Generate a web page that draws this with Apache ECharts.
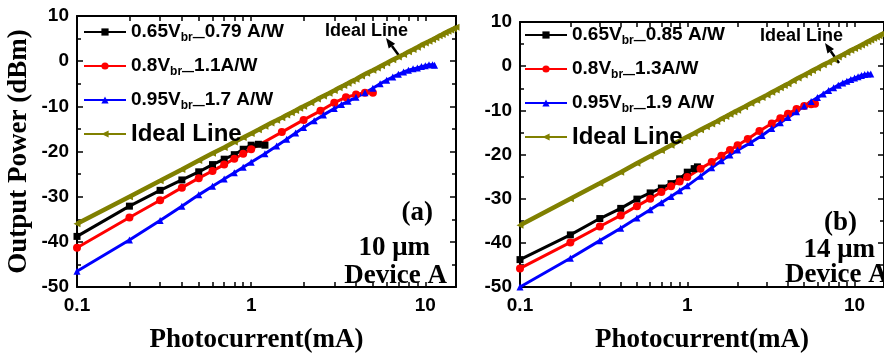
<!DOCTYPE html>
<html>
<head>
  <meta charset="utf-8">
  <title>Output power vs photocurrent</title>
  <script src="https://cdn.jsdelivr.net/npm/echarts@6/dist/echarts.min.js"></script>
  <style>
    html, body { margin: 0; padding: 0; background: #fff; }
    #chart { width: 884px; height: 359px; }
  </style>
</head>
<body>
  <div id="chart"></div>
  <script>
    // ideal line (same for both devices)
    const idealI = [0.1, 0.2, 0.3, 0.4, 0.5, 0.6, 0.7, 0.8, 0.9, 1.0, 1.1, 1.2, 1.3, 1.4, 1.5, 1.6, 1.7, 1.8, 1.9, 2.0,
      2.2, 2.4, 2.6, 2.8, 3.0, 3.2, 3.4, 3.6, 3.8, 4.0, 4.3, 4.6, 5.0, 5.3, 5.6, 6.0, 6.5, 7.0, 7.5, 8.0,
      8.5, 9.0, 9.5, 10, 10.5, 11, 11.5, 12, 12.5, 13, 13.5, 14, 14.5, 15];
    const idealP = [-36, -30.0, -26.5, -24.0, -22.0, -20.4, -19.1, -17.9, -16.9, -16.0, -15.2, -14.4, -13.7, -13.1, -12.5, -11.9, -11.4, -10.9, -10.4, -10.0,
      -9.2, -8.4, -7.7, -7.1, -6.5, -5.9, -5.4, -4.9, -4.4, -4.0, -3.3, -2.7, -2.0, -1.5, -1.0, -0.4, 0.3, 0.9, 1.5, 2.1,
      2.6, 3.1, 3.6, 4.0, 4.4, 4.8, 5.2, 5.6, 5.9, 6.3, 6.6, 6.9, 7.2, 7.5];

    // (a) 10 um device
    const aBlackI = [0.1, 0.2, 0.3, 0.4, 0.5, 0.6, 0.7, 0.8, 0.9, 1.0, 1.1, 1.2];
    const aBlackP = [-38.8, -32.1, -28.6, -26.3, -24.5, -22.9, -21.7, -20.7, -19.5, -18.6, -18.4, -18.6];
    const aRedI = [0.1, 0.2, 0.3, 0.4, 0.5, 0.6, 0.7, 0.8, 0.9, 1.0, 1.5, 2.0, 2.5, 3.0, 3.5, 4.0, 4.5, 5.0];
    const aRedP = [-41.3, -34.6, -30.8, -28.0, -25.9, -24.3, -22.9, -21.6, -20.5, -19.5, -15.7, -13.0, -11.0, -9.2, -8.0, -7.4, -7.0, -7.0];
    const aBlueI = [0.1, 0.2, 0.3, 0.4, 0.5, 0.6, 0.7, 0.8, 0.9, 1.0, 1.2, 1.4, 1.6, 1.8, 2.0, 2.3, 2.6, 3.0, 3.3, 3.6,
      4.0, 4.5, 5.0, 5.5, 6.0, 6.5, 7.0, 7.5, 8.0, 8.5, 9.0, 9.5, 10, 10.5, 11, 11.3];
    const aBlueP = [-46.5, -39.6, -35.3, -32.1, -29.6, -27.7, -26.1, -24.7, -23.5, -22.4, -20.5, -18.8, -17.3, -15.9, -14.7, -13.2, -11.9, -10.5, -9.6, -8.9,
      -8.0, -7.0, -6.0, -5.0, -4.2, -3.5, -2.9, -2.4, -2.0, -1.7, -1.5, -1.2, -1.0, -0.8, -0.8, -0.9];

    // (b) 14 um device
    const bBlackI = [0.1, 0.2, 0.3, 0.4, 0.5, 0.6, 0.7, 0.8, 0.9, 1.0, 1.1, 1.15];
    const bBlackP = [-43.8, -38.2, -34.5, -32.2, -30.1, -28.7, -27.6, -26.6, -25.5, -24.0, -23.2, -22.8];
    const bRedI = [0.1, 0.2, 0.3, 0.4, 0.5, 0.6, 0.7, 0.8, 0.9, 1.0, 1.2, 1.4, 1.6, 1.8, 2.0, 2.3, 2.7, 3.2, 3.6, 4.0, 4.5, 5.0, 5.5, 5.8];
    const bRedP = [-45.8, -39.9, -36.3, -33.8, -31.7, -30.0, -28.5, -27.2, -26.1, -25.1, -23.2, -21.7, -20.3, -19.0, -17.9, -16.5, -14.7, -13.0, -11.8, -10.8, -9.7, -9.0, -8.6, -8.5];
    const bBlueI = [0.1, 0.2, 0.3, 0.4, 0.5, 0.6, 0.7, 0.8, 0.9, 1.0, 1.2, 1.4, 1.6, 1.8, 2.0, 2.4, 2.8, 3.2, 3.6, 4.0,
      4.5, 5.0, 5.5, 6.0, 6.5, 7.0, 7.5, 8.0, 8.5, 9.0, 9.5, 10, 10.5, 11, 11.5, 12, 12.5];
    const bBlueP = [-50.0, -43.5, -39.5, -36.7, -34.4, -32.5, -30.9, -29.5, -28.2, -27.1, -24.9, -23.0, -21.4, -20.1, -19.0, -17.3, -15.7, -14.1, -12.8, -11.6,
      -10.3, -9.0, -8.0, -7.1, -6.3, -5.5, -4.9, -4.3, -3.8, -3.4, -3.0, -2.7, -2.4, -2.1, -1.9, -1.8, -1.8];

    const xLabels = [0.1, 1, 10];
    const xTicks = [0.1, 0.2, 0.3, 0.4, 0.5, 0.6, 0.7, 0.8, 0.9, 1, 2, 3, 4, 5, 6, 7, 8, 9, 10, 20];
    const namesA = ['0.65Vbr_0.79 A/W', '0.8Vbr_1.1A/W', '0.95Vbr_1.7 A/W', 'Ideal Line'];
    const namesB = ['0.65Vbr_0.85 A/W', '0.8Vbr_1.3A/W', '0.95Vbr_1.9 A/W', 'Ideal Line'];

    const pairs = (xs, ys) => xs.map((x, i) => [x, ys[i]]);
    const SANS = 'Liberation Sans, Arial, sans-serif';
    const SERIF = 'Liberation Serif, Times New Roman, serif';

    function xAxes(grid) {
      return [
        {
          gridIndex: grid, type: 'log', logBase: 10, min: 0.1, max: 15, position: 'bottom',
          name: 'Photocurrent(mA)', nameLocation: 'middle', nameGap: 40,
          nameTextStyle: { fontFamily: SERIF, fontWeight: 'bold', fontSize: 27, color: '#000', padding: grid === 0 ? [0, 20, 0, 0] : 0 },
          axisLine: { onZero: false, lineStyle: { color: '#000', width: 2 } },
          axisTick: { inside: true, length: 5, lineStyle: { color: '#000', width: 1.5 }, customValues: xTicks },
          axisLabel: { customValues: xLabels, margin: 9, fontFamily: SANS, fontWeight: 'bold', fontSize: 19, color: '#000',
            formatter: v => String(v) },
          splitLine: { show: false }
        },
        {
          gridIndex: grid, type: 'log', logBase: 10, min: 0.1, max: 15, position: 'top',
          axisLine: { onZero: false, lineStyle: { color: '#000', width: 2 } },
          axisTick: { inside: true, length: 5, lineStyle: { color: '#000', width: 1.5 }, customValues: xTicks },
          axisLabel: { show: false },
          splitLine: { show: false }
        }
      ];
    }

    function yAxes(grid, withName) {
      return [
        {
          gridIndex: grid, type: 'value', min: -50, max: 10, interval: 10, position: 'left',
          name: withName ? 'Output Power (dBm)' : '', nameLocation: 'middle', nameGap: 44,
          nameTextStyle: { fontFamily: SERIF, fontWeight: 'bold', fontSize: 27, color: '#000' },
          axisLine: { onZero: false, lineStyle: { color: '#000', width: 2 } },
          axisTick: { inside: true, length: 6, lineStyle: { color: '#000', width: 1.5 } },
          minorTick: { show: true, splitNumber: 2, length: 4, lineStyle: { color: '#000', width: 1.5 } },
          axisLabel: { margin: 8, fontFamily: SANS, fontWeight: 'bold', fontSize: 19, color: '#000' },
          splitLine: { show: false }
        },
        {
          gridIndex: grid, type: 'value', min: -50, max: 10, interval: 10, position: 'right',
          axisLine: { onZero: false, lineStyle: { color: '#000', width: 2 } },
          axisTick: { inside: true, length: 6, lineStyle: { color: '#000', width: 1.5 } },
          minorTick: { show: true, splitNumber: 2, length: 4, lineStyle: { color: '#000', width: 1.5 } },
          axisLabel: { show: false },
          splitLine: { show: false }
        }
      ];
    }

    const styles = [
      { color: '#000000', symbol: 'rect', size: 7, width: 3 },
      { color: '#ff0000', symbol: 'circle', size: 8, width: 3 },
      { color: '#0000ff', symbol: 'triangle', size: 7, width: 3 },
      { color: '#808000', symbol: 'triangle', size: 7, width: 4.5, rotate: 90 }
    ];

    function seriesFor(grid, names, sets) {
      return sets.map((d, k) => ({
        name: names[k], type: 'line', xAxisIndex: grid * 2, yAxisIndex: grid * 2,
        data: pairs(d[0], d[1]),
        symbol: styles[k].symbol, symbolSize: styles[k].size, symbolRotate: styles[k].rotate || 0,
        showAllSymbol: true,
        itemStyle: { color: styles[k].color },
        lineStyle: { color: styles[k].color, width: styles[k].width },
        z: k === 3 ? 1 : 3,
        animation: false
      }));
    }

    function legendFor(grid, names, left, top) {
      return {
        data: names, orient: 'vertical', left: left, top: top,
        itemWidth: 42, itemHeight: 9, itemGap: 10, padding: 0,
        selectedMode: false,
        formatter: n => n === 'Ideal Line'
          ? '{big|Ideal Line}'
          : '{n|' + n.split('Vbr_')[0] + 'V}{s|br—}{n|' + n.split('Vbr_')[1] + '}',
        textStyle: {
          color: '#000',
          rich: {
            n: { fontFamily: SANS, fontWeight: 'bold', fontSize: 19, lineHeight: 24, color: '#000' },
            s: { fontFamily: SANS, fontWeight: 'bold', fontSize: 12, lineHeight: 12, padding: [12, 0, 0, 0], color: '#000' },
            big: { fontFamily: SANS, fontWeight: 'bold', fontSize: 24, lineHeight: 24, color: '#000' }
          }
        }
      };
    }

    function arrow(tip, tail) {
      const dx = tip[0] - tail[0], dy = tip[1] - tail[1];
      const len = Math.sqrt(dx * dx + dy * dy);
      const ux = dx / len, uy = dy / len;
      const bx = tip[0] - ux * 10, by = tip[1] - uy * 10;
      return [
        { type: 'line', shape: { x1: tail[0], y1: tail[1], x2: bx, y2: by }, style: { stroke: '#000', lineWidth: 2.5 } },
        { type: 'polygon', shape: { points: [tip, [bx - uy * 4, by + ux * 4], [bx + uy * 4, by - ux * 4]] }, style: { fill: '#000' } }
      ];
    }

    function label(text, x, y, align) {
      return { type: 'text', x: x, y: y, style: { text: text, fill: '#000', font: 'bold 27px ' + SERIF, textAlign: align || 'left', textVerticalAlign: 'middle' } };
    }

    const chart = echarts.init(document.getElementById('chart'), null, { renderer: 'canvas' });
    chart.setOption({
      animation: false,
      backgroundColor: '#fff',
      grid: [
        { left: 77, top: 16, width: 379, height: 279.5 },
        { left: 520, top: 22, width: 379, height: 273.5 }
      ],
      xAxis: xAxes(0).concat(xAxes(1)),
      yAxis: yAxes(0, true).concat(yAxes(1, false)),
      legend: [legendFor(0, namesA, 83, 20), legendFor(1, namesB, 524, 23)],
      series: seriesFor(0, namesA, [[aBlackI, aBlackP], [aRedI, aRedP], [aBlueI, aBlueP], [idealI, idealP]])
        .concat(seriesFor(1, namesB, [[bBlackI, bBlackP], [bRedI, bRedP], [bBlueI, bBlueP], [idealI, idealP]])),
      graphic: [
        { type: 'text', x: 325, y: 31, style: { text: 'Ideal Line', fill: '#000', font: 'bold 18px ' + SANS, textVerticalAlign: 'middle' } },
        { type: 'text', x: 760, y: 36, style: { text: 'Ideal Line', fill: '#000', font: 'bold 18px ' + SANS, textVerticalAlign: 'middle' } },
        ...arrow([386, 38], [400, 57]),
        ...arrow([825, 43], [839, 63]),
        label('(a)', 433, 213, 'right'),
        label('10 μm', 430, 248, 'right'),
        label('Device A', 447, 276, 'right'),
        label('(b)', 857, 223, 'right'),
        label('14 μm', 875, 250, 'right'),
        label('Device A', 785, 275, 'left')
      ]
    });
  </script>
</body>
</html>
